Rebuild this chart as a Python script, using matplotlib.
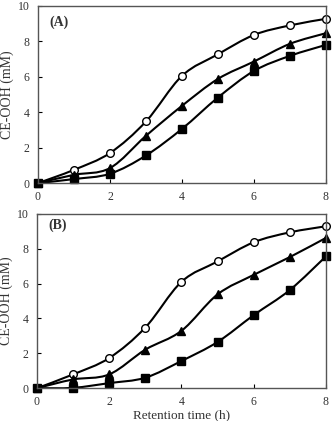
import matplotlib
matplotlib.use("Agg")
import matplotlib.pyplot as plt
import numpy as np
from matplotlib.path import Path
from matplotlib.patches import PathPatch

plt.rcParams['font.family'] = ['Liberation Serif', 'DejaVu Serif']

# === DADOS ===
tempo = [0, 1, 2, 3, 4, 5, 6, 7, 8]

a_circulo = [0, 0.75, 1.7, 3.48, 6.05, 7.27, 8.36, 8.9, 9.27]
a_triang = [0, 0.47, 0.85, 2.67, 4.36, 5.88, 6.86, 7.86, 8.46]
a_quad = [0, 0.23, 0.53, 1.56, 3.06, 4.83, 6.33, 7.18, 7.8]

b_circulo = [0, 0.79, 1.73, 3.48, 6.1, 7.27, 8.37, 8.94, 9.29]
b_triang = [0, 0.5, 0.79, 2.21, 3.29, 5.38, 6.5, 7.52, 8.62]
b_quad = [0, 0.02, 0.29, 0.6, 1.56, 2.65, 4.19, 5.63, 7.56]

x_ticks = [0, 2, 4, 6, 8]
y_ticks = [0, 2, 4, 6, 8, 10]


def curva_suave(ax, x, y):
    # linha suavizada (estilo Excel) com segmentos de Bezier
    p = np.column_stack([x, y]).astype(float)
    verts = [p[0]]
    codes = [Path.MOVETO]
    n = len(p)
    for i in range(n - 1):
        p0 = p[i - 1] if i > 0 else p[i]
        p1, p2 = p[i], p[i + 1]
        p3 = p[i + 2] if i + 2 < n else p[i + 1]
        c1 = p1 + (p2 - p0) / 6.0
        c2 = p2 - (p3 - p1) / 6.0
        verts += [c1, c2, p2]
        codes += [Path.CURVE4] * 3
    patch = PathPatch(Path(verts, codes), facecolor='none', edgecolor='black',
                      linewidth=1.5, zorder=2)
    ax.add_patch(patch)


def painel(ax, circ, tri, quad, rotulo, ypos):
    for serie in (circ, tri, quad):
        curva_suave(ax, tempo, serie)
    ax.plot(tempo, circ, 'o', ms=5.5, mfc='white', mec='black', mew=1.0, zorder=3)
    ax.plot(tempo, tri, '^', ms=6, mfc='black', mec='black', zorder=3)
    ax.plot(tempo, quad, 's', ms=5.5, mfc='black', mec='black', zorder=3)
    ax.set_xlim(0, 8)
    ax.set_ylim(0, 10)
    ax.set_xticks(x_ticks)
    ax.set_yticks(y_ticks)
    ax.tick_params(direction='in', length=3, width=0.8, labelsize=8.5, pad=6,
                   labelcolor='#333333')
    for s in ax.spines.values():
        s.set_color('#555555')
        s.set_linewidth(1.0)
        s.set_zorder(4)
    ax.set_ylabel('CE-OOH (mM)', fontsize=10, labelpad=3, color='#333333')
    ax.text(0.073, ypos, rotulo, transform=ax.transAxes, ha='center', va='center',
            fontsize=10, fontweight='bold', color='#333333')
    for ln in ax.lines:
        ln.set_clip_on(False)


fig = plt.figure(figsize=(3.36, 4.21), dpi=100)
ax1 = fig.add_axes([0.113, 0.565, 0.857, 0.421])
ax2 = fig.add_axes([0.110, 0.078, 0.860, 0.414])

painel(ax1, a_circulo, a_triang, a_quad, '(A)', 0.91)
painel(ax2, b_circulo, b_triang, b_quad, '(B)', 0.937)

ax2.set_xlabel('Retention time (h)', fontsize=9.5, labelpad=0.5, color='#333333')

fig.savefig('out.png', dpi=100)
